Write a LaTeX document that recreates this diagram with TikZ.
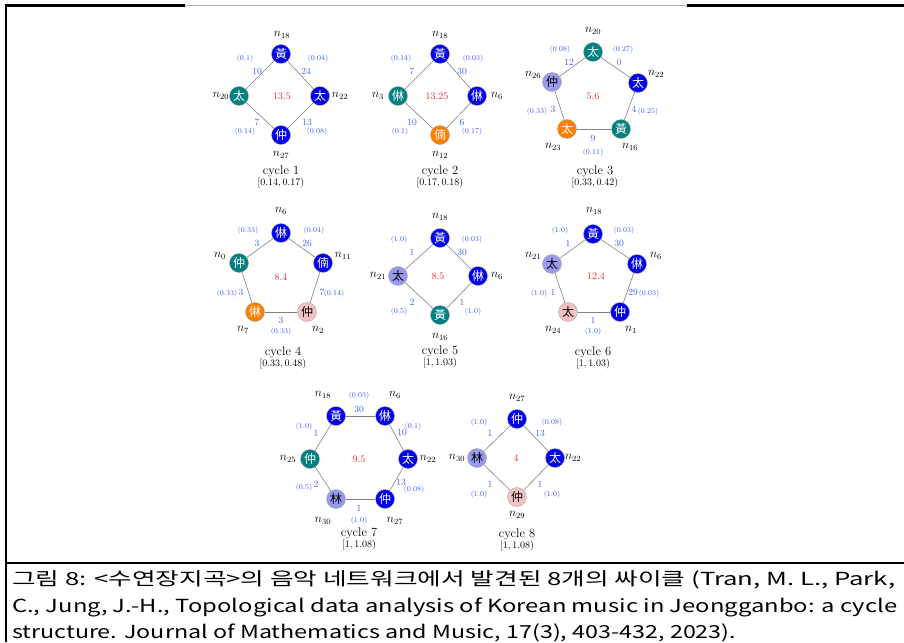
\documentclass[tikz,border=0pt]{standalone}
\usepackage{fontspec}
\usepackage{graphicx}
\newfontfamily\hanja{Noto Sans CJK TC}
\newfontfamily\hangul{Noto Sans CJK KR}
\definecolor{pblue}{RGB}{0,0,235}
\definecolor{pteal}{RGB}{0,128,128}
\definecolor{porange}{RGB}{255,128,0}
\definecolor{plilac}{RGB}{153,153,238}
\definecolor{ppink}{RGB}{244,194,194}
\definecolor{wblue}{RGB}{60,90,255}
\definecolor{cred}{RGB}{240,40,40}
\begin{document}
\begin{tikzpicture}[x=1pt,y=-1pt,
  pitch/.style={circle,draw=gray!70,line width=.4pt,inner sep=0pt,minimum size=19pt,
    font=\hanja\fontsize{12}{12}\selectfont},
  hb/.style={pitch,fill=pblue,text=white},
  ht/.style={pitch,fill=pteal,text=white},
  ho/.style={pitch,fill=porange,text=white},
  hl/.style={pitch,fill=plilac,text=black},
  hp/.style={pitch,fill=ppink,text=black},
  link/.style={draw=gray,line width=.6pt},
  nlab/.style={inner sep=0pt,font=\fontsize{11.5}{11.5}\selectfont},
  wt/.style={inner sep=0pt,text=wblue,font=\fontsize{9.5}{9.5}\selectfont},
  pr/.style={inner sep=0pt,text=wblue,font=\fontsize{7.5}{7.5}\selectfont},
  ctr/.style={inner sep=0pt,text=cred,font=\fontsize{10}{10}\selectfont},
  ttl/.style={inner sep=0pt,font=\fontsize{12.5}{12.5}\selectfont},
  rng/.style={inner sep=0pt,font=\fontsize{10}{10}\selectfont},
  capline/.style={anchor=base west,inner sep=0pt}]
\useasboundingbox (0,0) rectangle (904,642);

\draw[line width=2.2pt] (6,642) -- (6,5.5) -- (185,5.5);
\draw[gray!60,line width=.5pt] (185,5.5) -- (687,5.5);
\draw[line width=2.2pt] (687,5.5) -- (904,5.5);
\draw[line width=2.2pt] (6,563) -- (904,563);

\foreach \id/\st/\x/\y/\ch in {
  a18/hb/281/54/黃, a20/ht/239/96/太, a22/hb/320/96/太, a27/hb/281/135/仲,
  b18/hb/440/54/黃, b3/ht/398/96/㑣, b6/hb/477/96/㑣, b12/ho/440/135/㑲,
  c20/ht/593/52/太, c22/hb/638/83/太, c16/ht/621/129/黃, c23/ho/567/129/太, c26/hl/552/82/仲,
  d6/hb/281/233/㑣, d11/hb/323/263/㑲, d2/hp/307/312/仲, d7/ho/255/312/㑣, d0/ht/239/263/仲,
  e18/hb/440/238/黃, e21/hl/398/276/太, e6/hb/478/276/㑣, e16/ht/440/315/黃,
  f18/hb/593/234/黃, f6/hb/637/264/㑣, f1/hb/620/312/仲, f24/hp/568/312/太, f21/hl/552/264/太,
  g18/hb/336/416/黃, g6/hb/385/416/㑣, g22/hb/408/459/太, g27/hb/385/499/仲, g30/hl/336/499/林, g25/ht/310/459/仲,
  h27/hb/517/419/仲, h22/hb/555/458/太, h29/hp/517/497/仲, h30/hl/477/458/林}
  \node[\st] (\id) at (\x,\y) {\ch};

\foreach \id/\x/\y/\k in {
  a18/282/35/18, a20/221/96/20, a22/340/96/22, a27/281/155/27,
  b18/440/35/18, b3/378/96/3, b6/497/96/6, b12/440/155/12,
  c20/593/31/20, c22/656/74/22, c16/630/147/16, c23/553/147/23, c26/533/75/26,
  d6/281/211/6, d11/343/256/11, d2/318/330/2, d7/243/330/7, d0/220/256/0,
  e18/440/217/18, e21/378/276/21, e6/497/276/6, e16/440/337/16,
  f18/594/211/18, f6/656/256/6, f1/631/330/1, f24/553/330/24, f21/533/256/21,
  g18/323/395/18, g6/395/395/6, g22/428/459/22, g27/395/521/27, g30/323/521/30, g25/288/459/25,
  h27/517/398/27, h22/573/458/22, h29/517/515/29, h30/457/458/30}
  \node[nlab] (l\id) at (\x,\y) {$n_{\k}$};

\foreach \p/\q/\wx/\wy/\w/\rx/\ry/\r in {
  a18/a20/257/71/10/245/59/0.1, a18/a22/306/71/24/318/59/0.04,
  a20/a27/257/122/7/245/132/0.14, a22/a27/307/122/13/317/132/0.08,
  b18/b3/412/71/7/401/59/0.14, b18/b6/462/71/30/473/59/0.03,
  b3/b12/412/122/10/400/132/0.1, b6/b12/462/122/6/472/132/0.17,
  c26/c20/569/62/12/560/50/0.08, c20/c22/619/62/0/623/50/0.27,
  c22/c16/634/109/4/648/112/0.25, c16/c23/593/138/9/593/153/0.11,
  c23/c26/553/109/3/537/112/0.33,
  d0/d6/257/243/3/248/231/0.33, d6/d11/307/243/26/314/231/0.04,
  d11/d2/322/292/7/334/294/0.14, d2/d7/281/320/3/281/332/0.33,
  d7/d0/241/292/3/227/294/0.33,
  e18/e21/412/252/1/399/240/1.0, e18/e6/462/252/30/472/240/0.03,
  e21/e16/412/302/2/399/312/0.5, e6/e16/462/302/1/473/312/1.0,
  f21/f18/568/243/1/560/231/1.0, f18/f6/619/243/30/624/231/0.03,
  f6/f1/633/292/29/649/294/0.03, f1/f24/593/320/1/593/332/1.0,
  f24/f21/553/292/1/539/294/1.0,
  g18/g6/359/409/30/359/396/0.03, g6/g22/402/432/10/413/427/0.1,
  g22/g27/401/482/13/414/490/0.08, g27/g30/359/508/1/359/521/1.0,
  g30/g25/316/484/2/304/488/0.5, g25/g18/316/433/1/304/427/1.0,
  h30/h27/490/433/1/479/423/1.0, h27/h22/540/433/13/552/423/0.08,
  h30/h29/490/484/1/479/495/1.0, h22/h29/540/484/1/552/495/1.0}
{
  \draw[link] (\p) -- (\q);
  \node[wt] (w\p\q) at (\wx,\wy) {\w};
  \node[pr] (r\p\q) at (\rx,\ry) {(\r)};
}

\foreach \k/\cx/\cy/\v/\tx/\ty/\rg in {
  1/282/96/13.5/281/171/{[0.14, 0.17)}, 2/437/96/13.25/440/171/{[0.17, 0.18)},
  3/593/96/5.6/595/171/{[0.33, 0.42)}, 4/281/277/8.4/283/352/{[0.33, 0.48)},
  5/438/276/8.5/440/351/{[1, 1.03)}, 6/596/276/12.4/593/352/{[1, 1.03)},
  7/359/459/9.5/359/533/{[1, 1.08)}, 8/516/458/4/517/534/{[1, 1.08)}}
{
  \node[ctr] (v\k) at (\cx,\cy) {\v};
  \node[ttl] (t\k) at (\tx,\ty) {cycle \k};
  \node[rng] (g\k) at (\tx,\ty+12) {$\rg$};
}

\node[capline] (cap1) at (12,585) {\resizebox{883pt}{\height}{\hangul\fontsize{18}{18}\selectfont
  그림 8: <수연장지곡>의 음악 네트워크에서 발견된 8개의 싸이클 (Tran, M. L., Park,}};
\node[capline] (cap2) at (12,612) {\resizebox{885pt}{\height}{\hangul\fontsize{18}{18}\selectfont
  C., Jung, J.-H., Topological data analysis of Korean music in Jeongganbo: a cycle}};
\node[capline] (cap3) at (12,638) {\resizebox{724pt}{\height}{\hangul\fontsize{18}{18}\selectfont
  structure. Journal of Mathematics and Music, 17(3), 403-432, 2023).}};
\end{tikzpicture}
\end{document}
